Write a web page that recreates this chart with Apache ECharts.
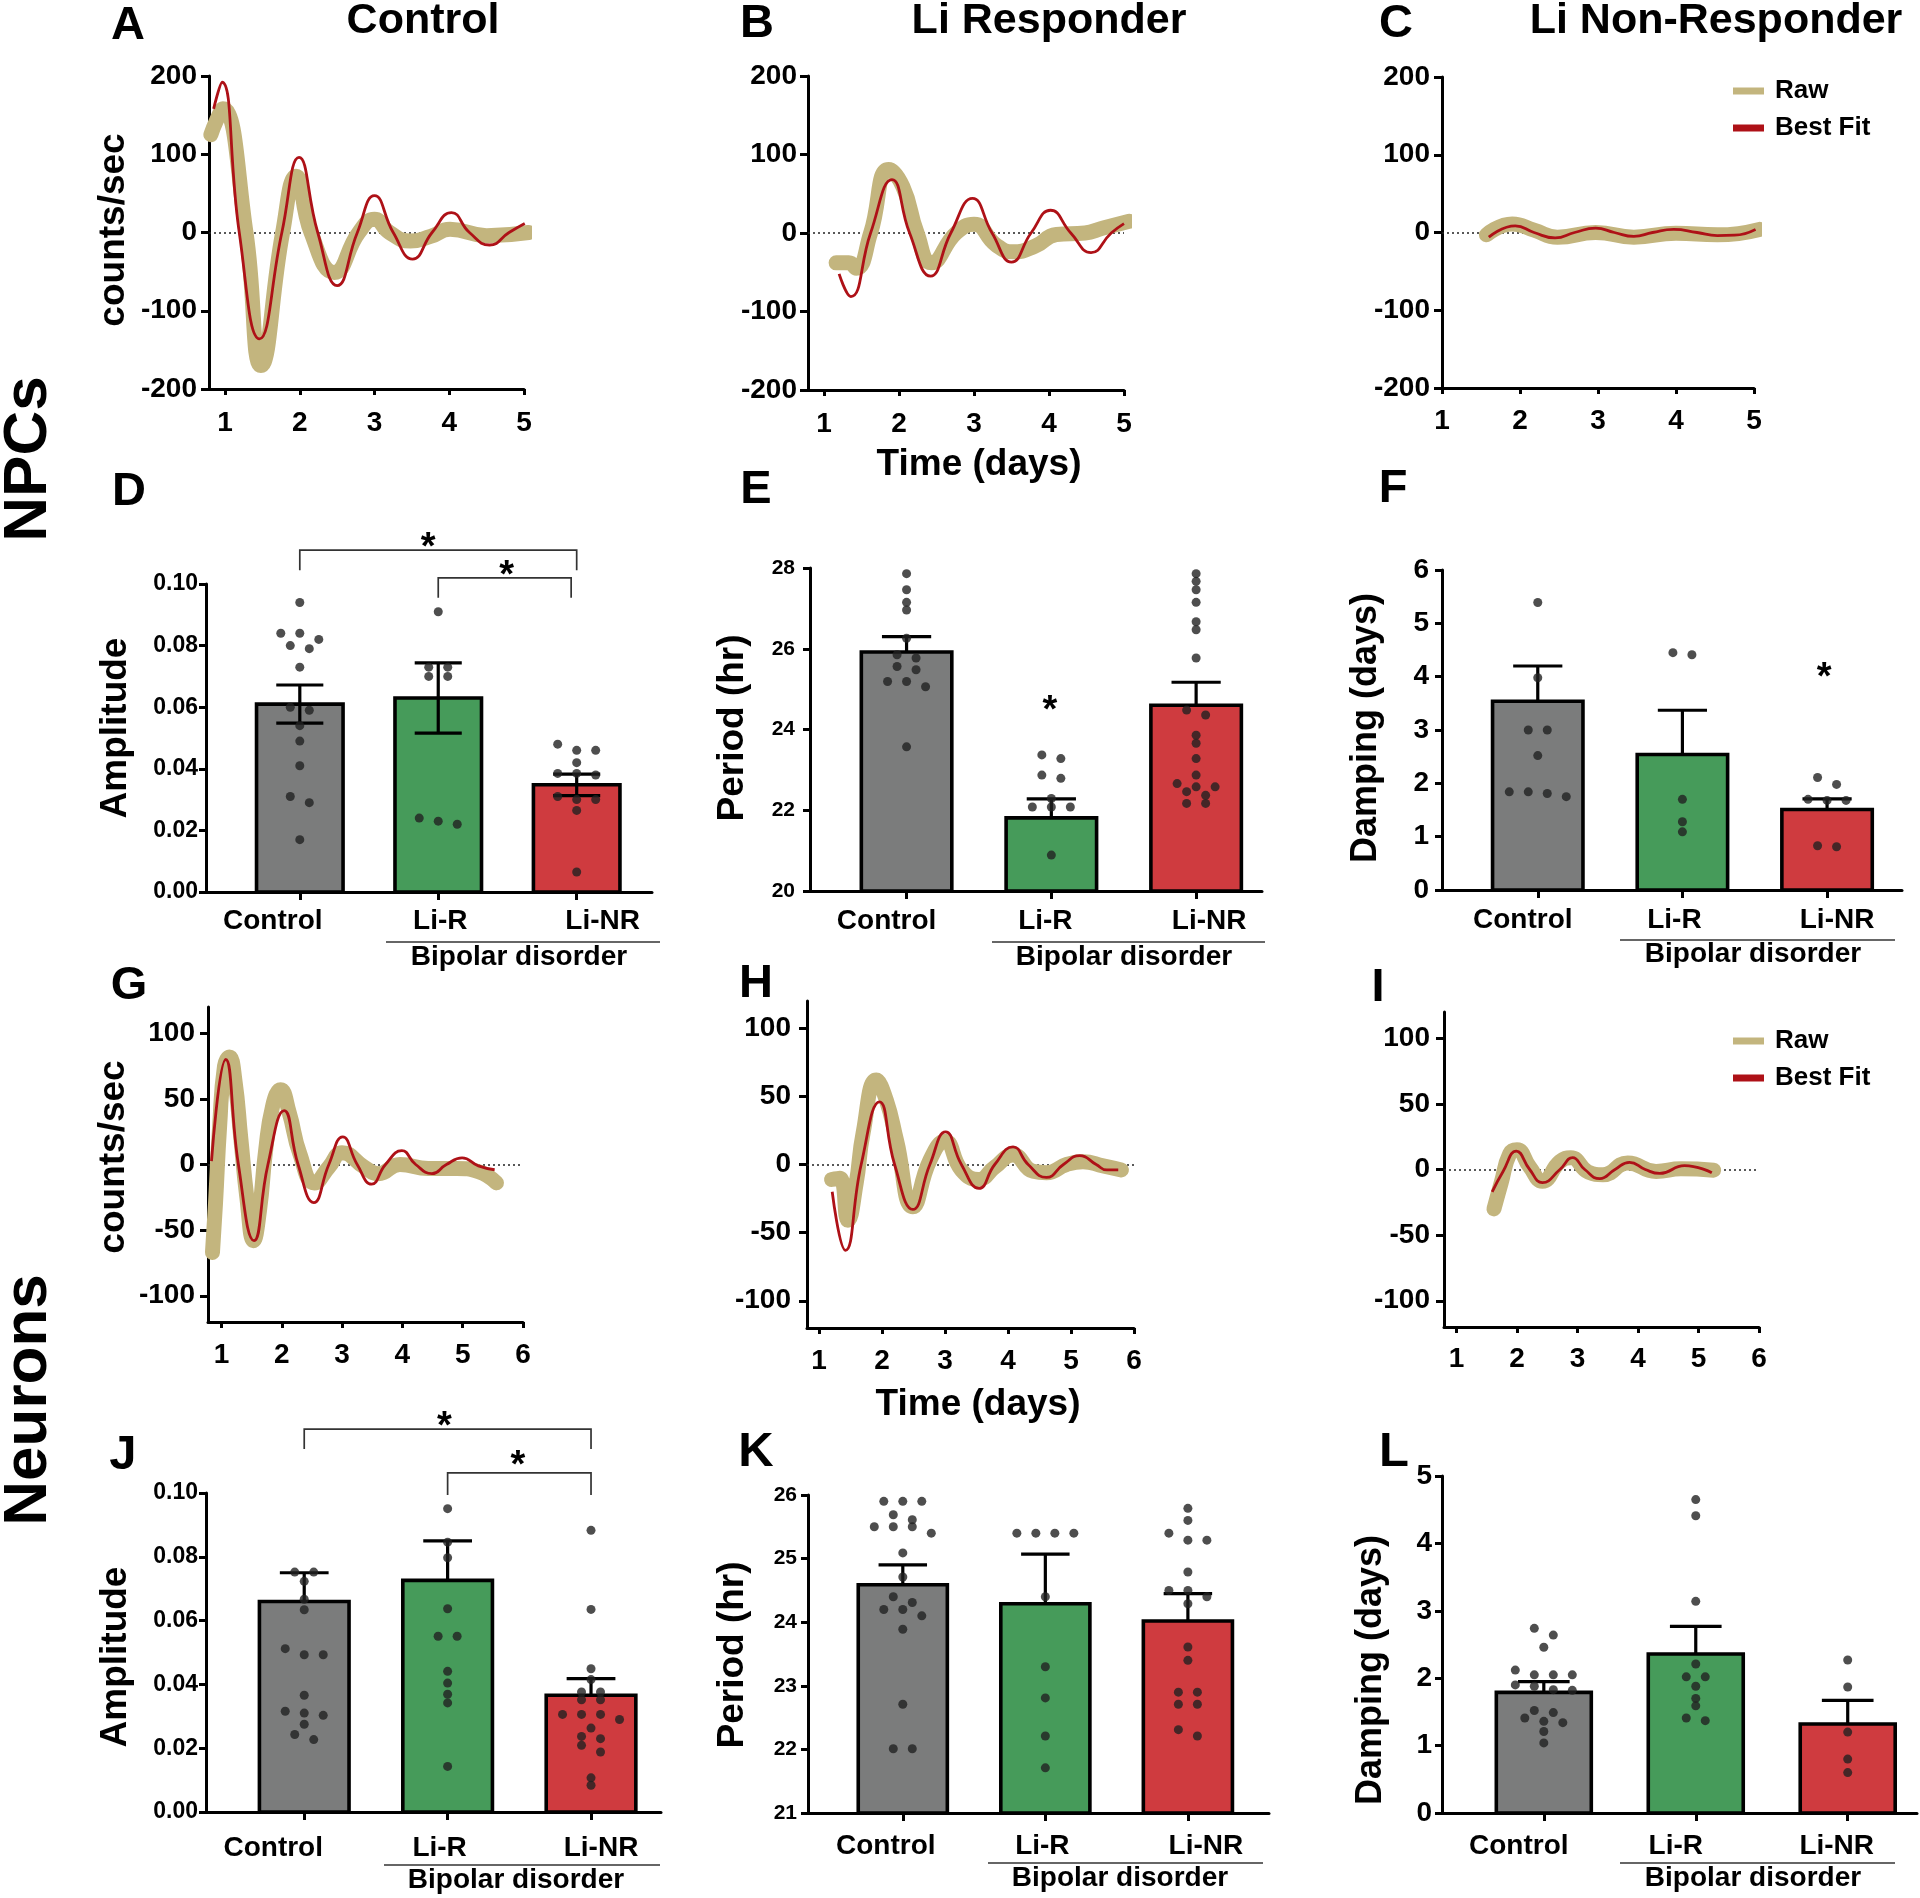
<!DOCTYPE html>
<html><head><meta charset="utf-8">
<script src="https://cdn.jsdelivr.net/npm/echarts@6/dist/echarts.min.js"></script>
<style>html,body{margin:0;padding:0;background:#fff}#c{width:1920px;height:1898px}</style>
</head><body><div id="c"></div>
<script>
// ================= DATA =================
const groupNames = ['Control', 'Li-R', 'Li-NR'];
const daysTicks5 = [1, 2, 3, 4, 5];
const daysTicks6 = [1, 2, 3, 4, 5, 6];
const npcTraceTicks = [-200, -100, 0, 100, 200];
const neuTraceTicks = [-100, -50, 0, 50, 100];

// NPC bioluminescence traces (day, counts/sec)
const npcCtrlRaw = [[0.81,125],[0.88,142],[0.97,158],[1.28,0],[1.48,-170],[1.77,0],[1.95,72],[2.15,0],[2.46,-51],[2.79,0],[3.0,17],[3.2,0],[3.48,-11],[3.75,-5],[4.01,4],[4.5,-4],[5.06,0]];
const npcCtrlFit = [[0.847,158],[0.96,192],[1.19,0],[1.46,-136],[1.76,0],[1.99,96],[2.24,0],[2.5,-68],[2.77,0],[3.0,47],[3.25,0],[3.51,-34],[3.77,0],[4.03,25.5],[4.27,0],[4.54,-16],[4.8,0],[5.01,11.5]];
const npcLiRRaw = [[1.16,-38],[1.33,-38],[1.43,-45],[1.62,0],[1.86,81],[2.05,59],[2.24,0],[2.43,-38],[2.76,0],[3.0,11],[3.29,-15],[3.52,-24],[3.81,-17],[4.1,-2],[4.48,0],[4.71,6],[5.07,15]];
const npcLiRFit = [[1.2,-52],[1.357,-81],[1.62,0],[1.905,68],[2.14,0],[2.42,-55],[2.69,0],[2.98,44],[3.24,0],[3.5,-37],[3.76,0],[4.02,29],[4.29,0],[4.56,-25],[4.83,0],[5.0,12]];
const npcLiNRRaw = [[1.57,-3],[1.9,11],[2.18,3],[2.48,-6],[2.97,0],[3.46,-6],[4.0,-1],[4.53,-3],[5.07,4]];
const npcLiNRFit = [[1.6,-6],[1.94,8.5],[2.18,0],[2.45,-7],[2.7,0],[2.97,5.5],[3.21,0],[3.46,-5],[3.7,0],[3.97,4],[4.27,0],[4.53,-4],[4.75,-3.5],[5.02,4]];

// Neuron traces
const neuCtrlRaw = [[0.85,-67],[0.9,-30],[0.97,30],[1.05,75],[1.13,82],[1.22,65],[1.32,20],[1.42,-25],[1.53,-58],[1.63,-35],[1.73,10],[1.85,45],[1.98,57],[2.12,40],[2.3,8],[2.54,-14],[2.78,-2],[3.0,9],[3.37,-2],[3.6,-7],[3.96,0],[4.43,-3],[4.9,-3],[5.26,-5.5],[5.56,-14]];
const neuCtrlFit = [[0.834,2.5],[1.07,80],[1.28,0],[1.54,-58],[1.77,0],[2.04,41],[2.27,0],[2.53,-29],[2.78,0],[3.01,21],[3.25,0],[3.49,-15],[3.72,0],[3.99,10.5],[4.22,0],[4.49,-7],[4.73,0],[4.99,5],[5.26,-1],[5.53,-4]];
const neuLiRRaw = [[1.2,-11],[1.33,-10],[1.46,-41],[1.59,-14],[1.7,23],[1.91,62],[2.07,47],[2.23,18],[2.49,-31],[2.76,3],[3.0,17],[3.26,-4],[3.53,-11],[3.79,-2],[4.08,7],[4.4,-5],[4.61,-6],[4.93,0],[5.19,2],[5.51,-1],[5.8,-4]];
const neuLiRFit = [[1.21,-20],[1.42,-63],[1.67,0],[1.96,46],[2.2,0],[2.49,-33],[2.76,0],[3.01,24],[3.26,0],[3.54,-17.5],[3.79,0],[4.08,13],[4.32,0],[4.61,-9.5],[4.88,0],[5.14,6.5],[5.4,0],[5.57,-4],[5.75,-4]];
const neuLiNRRaw = [[1.62,-30],[1.74,-10],[1.88,12],[2.0,15],[2.21,2],[2.42,-9],[2.71,6],[2.89,9],[3.18,-2],[3.42,-4],[3.83,5],[4.3,-1.5],[4.71,0.5],[5.25,-0.5]];
const neuLiNRFit = [[1.59,-17],[1.77,-1.5],[1.99,14],[2.21,0],[2.42,-10],[2.71,0],[2.92,9],[3.12,0],[3.37,-7],[3.62,0],[3.86,5.5],[4.12,0],[4.36,-3],[4.77,3],[5.22,-2.5]];

// NPC amplitude (D)
const npcAmpMean = [0.061, 0.063, 0.0348];
const npcAmpSem = [0.0062, 0.0114, 0.0035];
const npcAmpCtrl = [0.094,0.084,0.084,0.082,0.080,0.079,0.073,0.060,0.059,0.054,0.049,0.041,0.031,0.029,0.017];
const npcAmpLiR = [0.091,0.073,0.073,0.070,0.070,0.024,0.023,0.022];
const npcAmpLiNR = [0.048,0.046,0.046,0.042,0.0385,0.0385,0.038,0.031,0.030,0.030,0.0265,0.0065];
// NPC period (E)
const npcPerMean = [25.92, 21.81, 24.6];
const npcPerSem = [0.38, 0.47, 0.57];
const npcPerCtrl = [27.86,27.46,27.15,26.96,26.26,25.85,25.77,25.56,25.48,25.19,25.19,25.06,23.57];
const npcPerLiR = [23.37,23.28,22.87,22.79,22.29,22.08,22.08,22.08,20.89];
const npcPerLiNR = [27.86,27.67,27.46,27.15,26.67,26.47,25.77,24.48,24.36,23.86,23.66,23.28,22.87,22.66,22.58,22.58,22.46,22.37,22.17,22.17];
// NPC damping (F)
const npcDampMean = [3.54, 2.54, 1.51];
const npcDampSem = [0.66, 0.83, 0.2];
const npcDampCtrl = [5.39,3.98,3.0,3.0,2.52,1.84,1.84,1.81,1.75];
const npcDampLiR = [4.45,4.41,1.7,1.28,1.09];
const npcDampLiNR = [2.11,1.98,1.70,1.68,1.68,0.83,0.81];
// Neuron amplitude (J)
const neuAmpMean = [0.066, 0.0726, 0.0366];
const neuAmpSem = [0.009, 0.0124, 0.0052];
const neuAmpCtrl = [0.0752,0.0752,0.0723,0.0667,0.0634,0.0512,0.0493,0.0493,0.0366,0.0316,0.031,0.0303,0.0275,0.0243,0.0227];
const neuAmpLiR = [0.0951,0.0846,0.0797,0.0637,0.0551,0.0551,0.0441,0.0404,0.0369,0.0342,0.0143];
const neuAmpLiNR = [0.0883,0.0635,0.0449,0.0415,0.0376,0.0376,0.0352,0.0352,0.0306,0.0306,0.0306,0.029,0.0263,0.0237,0.023,0.0209,0.0188,0.0107,0.0084];
// Neuron period (K)
const neuPerMean = [24.59, 24.29, 24.02];
const neuPerSem = [0.31, 0.78, 0.43];
const neuPerCtrl = [25.9,25.9,25.9,25.69,25.61,25.5,25.5,25.5,25.4,25.09,24.71,24.4,24.31,24.2,24.2,24.1,23.89,22.71,22.01,22.01];
const neuPerLiR = [25.4,25.4,25.4,25.4,24.4,23.3,22.81,22.21,21.71];
const neuPerLiNR = [25.79,25.6,25.4,25.29,25.29,24.79,24.5,24.5,24.4,24.29,23.61,23.4,22.9,22.9,22.71,22.71,22.31,22.21];
// Neuron damping (L)
const neuDampMean = [1.79, 2.36, 1.32];
const neuDampSem = [0.16, 0.41, 0.35];
const neuDampCtrl = [2.74,2.64,2.46,2.12,2.05,2.05,2.05,1.90,1.88,1.83,1.82,1.52,1.49,1.41,1.36,1.34,1.21,1.04];
const neuDampLiR = [4.65,4.41,3.14,2.21,2.02,2.02,1.88,1.7,1.59,1.41,1.37];
const neuDampLiNR = [2.27,1.87,1.2,0.8,0.6];

// significance annotations: [x1, x2, y, drop1, drop2] and star [x, y]
const npcAmpBrackets = [[1, 3, 0.111, 0.1045, 0.1045], [2, 2.96, 0.102, 0.0955, 0.0955]];
const npcAmpStars = [[1.927, 0.1143], [2.494, 0.1052]];
const npcPerStars = [[1.99, 24.66]];
const npcDampStars = [[2.98, 4.125]];
const neuAmpBrackets = [[1, 3, 0.120, 0.1138, 0.1138], [2, 3, 0.1063, 0.0994, 0.0994]];
const neuAmpStars = [[1.977, 0.1235], [2.49, 0.111]];

// ================= STYLE / LAYOUT =================
const FONT = "'Liberation Sans', Arial, Helvetica, sans-serif";
const C_RAW = '#C3B57E', C_FIT = '#AE1117';
const BAR_COLORS = ['#7B7C7C', '#469B5A', '#CF3B3F'];
const BW = 0.625, CW = 0.34;

const timePanels = [
  {raw: npcCtrlRaw, fit: npcCtrlFit, grid: {left: 209, top: 76, width: 315, height: 313}, x: [0.785, 5], xt: daysTicks5, y: [-200, 200], yt: npcTraceTicks, xm: 20, ym: 12},
  {raw: npcLiRRaw, fit: npcLiRFit, grid: {left: 808, top: 76, width: 316, height: 314}, x: [0.785, 5], xt: daysTicks5, y: [-200, 200], yt: npcTraceTicks, xm: 20, ym: 11},
  {raw: npcLiNRRaw, fit: npcLiNRFit, grid: {left: 1442, top: 77, width: 312, height: 311}, x: [1, 5], xt: daysTicks5, y: [-200, 200], yt: npcTraceTicks, xm: 19, ym: 12},
  {raw: neuCtrlRaw, fit: neuCtrlFit, grid: {left: 208, top: 1007, width: 315, height: 315}, x: [0.776, 6], xt: daysTicks6, y: [-120, 120], yt: neuTraceTicks, xm: 19, ym: 13},
  {raw: neuLiRRaw, fit: neuLiRFit, grid: {left: 807, top: 1001, width: 327, height: 327}, x: [0.81, 6], xt: daysTicks6, y: [-120, 120], yt: neuTraceTicks, xm: 19, ym: 16},
  {raw: neuLiNRRaw, fit: neuLiNRFit, grid: {left: 1444, top: 1012, width: 315, height: 315}, x: [0.794, 6], xt: daysTicks6, y: [-120, 120], yt: neuTraceTicks, xm: 18, ym: 14}
];

const barPanels = [
  {mean: npcAmpMean, sem: npcAmpSem, groups: [npcAmpCtrl, npcAmpLiR, npcAmpLiNR], two: true, grid: {left: 206, top: 584, width: 446, height: 308}, x: [0.3225, 3.544], y: [0, 0.1], yi: 0.02, dec: 2, tf: 23, ym: 8, xm: 15, shift: [-27, 2, 26], brackets: npcAmpBrackets, stars: npcAmpStars},
  {mean: npcPerMean, sem: npcPerSem, groups: [npcPerCtrl, npcPerLiR, npcPerLiNR], two: false, grid: {left: 810, top: 568, width: 452, height: 323}, x: [0.333, 3.455], y: [20, 28], yi: 2, dec: 0, tf: 21, ym: 15, xm: 16, shift: [-20, -6, 13], stars: npcPerStars},
  {mean: npcDampMean, sem: npcDampSem, groups: [npcDampCtrl, npcDampLiR, npcDampLiNR], two: false, grid: {left: 1442, top: 570, width: 460, height: 320}, x: [0.338, 3.518], y: [0, 6], yi: 1, dec: 0, tf: 28, ym: 13, xm: 16, shift: [-15, -8, 10], stars: npcDampStars},
  {mean: neuAmpMean, sem: neuAmpSem, groups: [neuAmpCtrl, neuAmpLiR, neuAmpLiNR], two: false, grid: {left: 206, top: 1493, width: 455, height: 319}, x: [0.315, 3.488], y: [0, 0.1], yi: 0.02, dec: 2, tf: 23, ym: 8, xm: 22, shift: [-31, -8, 10], brackets: neuAmpBrackets, stars: neuAmpStars},
  {mean: neuPerMean, sem: neuPerSem, groups: [neuPerCtrl, neuPerLiR, neuPerLiNR], two: false, grid: {left: 808, top: 1495, width: 461, height: 318}, x: [0.335, 3.569], y: [21, 26], yi: 1, dec: 0, tf: 21, ym: 11, xm: 19, shift: [-17, -3, 18]},
  {mean: neuDampMean, sem: neuDampSem, groups: [neuDampCtrl, neuDampLiR, neuDampLiNR], two: false, grid: {left: 1442, top: 1476, width: 475, height: 337}, x: [0.33, 3.456], y: [0, 5], yi: 1, dec: 0, tf: 28, ym: 10, xm: 19, shift: [-25, -20, -11]}
];

// beeswarm-like row layout (GraphPad style)
function swarm(vals, xc, pxX, pxY, stepPx, rowPx) {
  const s = vals.slice().sort((a, b) => b - a);
  const out = [];
  let i = 0;
  while (i < s.length) {
    const row = [s[i]]; let j = i + 1;
    while (j < s.length && (s[i] - s[j]) * pxY < rowPx) { row.push(s[j]); j++; }
    const n = row.length;
    row.forEach((v, k) => out.push([xc + (k - (n - 1) / 2) * stepPx / pxX, v]));
    i = j;
  }
  return out;
}

const axisLineStyle = {color: '#000', width: 3};
const grid = [], xAxis = [], yAxis = [], series = [];

timePanels.forEach(p => {
  const gi = grid.length;
  grid.push(Object.assign({}, p.grid));
  xAxis.push({
    type: 'value', gridIndex: gi, min: p.x[0], max: p.x[1],
    axisLine: {show: true, onZero: false, lineStyle: axisLineStyle},
    axisTick: {show: true, length: 6, lineStyle: axisLineStyle, customValues: p.xt},
    axisLabel: {customValues: p.xt, margin: p.xm, color: '#000', fontFamily: FONT, fontWeight: 'bold', fontSize: 28, formatter: v => String(v)},
    splitLine: {show: false}
  });
  yAxis.push({
    type: 'value', gridIndex: gi, min: p.y[0], max: p.y[1],
    axisLine: {show: true, onZero: false, lineStyle: axisLineStyle},
    axisTick: {show: true, length: 8, lineStyle: axisLineStyle, customValues: p.yt},
    axisLabel: {customValues: p.yt, margin: p.ym, color: '#000', fontFamily: FONT, fontWeight: 'bold', fontSize: 28, formatter: v => String(v)},
    splitLine: {show: false}
  });
  series.push({
    type: 'line', name: 'Raw', xAxisIndex: gi, yAxisIndex: gi, data: p.raw, smooth: 0.5,
    showSymbol: false, symbol: 'none', color: C_RAW, z: 2,
    lineStyle: {width: 15, color: C_RAW, cap: 'round', join: 'round'},
    markLine: {silent: true, symbol: 'none', z: 1, label: {show: false},
      lineStyle: {type: [2, 3], color: '#222', width: 1.6}, data: [{yAxis: 0}]}
  });
  series.push({
    type: 'line', name: 'Best Fit', xAxisIndex: gi, yAxisIndex: gi, data: p.fit, smooth: 0.5,
    showSymbol: false, symbol: 'none', color: C_FIT, z: 3,
    lineStyle: {width: 2.8, color: C_FIT}
  });
});

barPanels.forEach(p => {
  const gi = grid.length;
  grid.push(Object.assign({}, p.grid));
  const rich = {};
  p.shift.forEach((d, k) => {
    rich['g' + k] = {fontFamily: FONT, fontWeight: 'bold', fontSize: 28, color: '#000',
      padding: [0, d < 0 ? -2 * d : 0, 0, d > 0 ? 2 * d : 0]};
  });
  xAxis.push({
    type: 'value', gridIndex: gi, min: p.x[0], max: p.x[1],
    axisLine: {show: true, onZero: false, lineStyle: axisLineStyle},
    axisTick: {show: true, length: 8, lineStyle: axisLineStyle, customValues: [1, 2, 3]},
    axisLabel: {customValues: [1, 2, 3], margin: p.xm, rich,
      formatter: v => { const k = Math.round(v) - 1; return '{g' + k + '|' + groupNames[k] + '}'; }},
    splitLine: {show: false}
  });
  yAxis.push({
    type: 'value', gridIndex: gi, min: p.y[0], max: p.y[1], interval: p.yi,
    axisLine: {show: true, onZero: false, lineStyle: axisLineStyle},
    axisTick: {show: true, length: 7, lineStyle: axisLineStyle},
    axisLabel: {margin: p.ym, color: '#000', fontFamily: FONT, fontWeight: 'bold', fontSize: p.tf, formatter: v => v.toFixed(p.dec)},
    splitLine: {show: false}
  });
  const base = p.y[0];
  series.push({
    type: 'custom', xAxisIndex: gi, yAxisIndex: gi, z: 1, clip: false,
    data: p.mean.map((m, k) => [k + 1, m]),
    renderItem: (params, api) => {
      const x = api.value(0), m = api.value(1);
      const a = api.coord([x - BW / 2, m]), b = api.coord([x + BW / 2, base]);
      return {type: 'rect', shape: {x: a[0], y: a[1], width: b[0] - a[0], height: b[1] - a[1]},
        style: {fill: BAR_COLORS[params.dataIndex], stroke: '#000', lineWidth: 3.6}};
    }
  });
  series.push({
    type: 'custom', xAxisIndex: gi, yAxisIndex: gi, z: 3, clip: false,
    data: p.mean.map((m, k) => [k + 1, m, p.sem[k]]),
    renderItem: (params, api) => {
      const x = api.value(0), m = api.value(1), s = api.value(2);
      const top = api.coord([x, m + s]), bot = api.coord([x, p.two ? m - s : m]);
      const cl = api.coord([x - CW / 2, m + s]), cr = api.coord([x + CW / 2, m + s]);
      const st = {stroke: '#000', lineWidth: 3.2};
      const ch = [
        {type: 'line', shape: {x1: top[0], y1: top[1], x2: bot[0], y2: bot[1]}, style: st},
        {type: 'line', shape: {x1: cl[0], y1: cl[1], x2: cr[0], y2: cr[1]}, style: st}
      ];
      if (p.two) {
        const bl = api.coord([x - CW / 2, m - s]), br = api.coord([x + CW / 2, m - s]);
        ch.push({type: 'line', shape: {x1: bl[0], y1: bl[1], x2: br[0], y2: br[1]}, style: st});
      }
      return {type: 'group', children: ch};
    }
  });
  const pxX = p.grid.width / (p.x[1] - p.x[0]);
  const pxY = p.grid.height / (p.y[1] - p.y[0]);
  p.groups.forEach((vals, k) => {
    series.push({
      type: 'scatter', xAxisIndex: gi, yAxisIndex: gi, z: 4, symbol: 'circle', symbolSize: 9,
      itemStyle: {color: '#222'}, data: swarm(vals, k + 1, pxX, pxY, 19, 7)
    });
  });
  if (p.brackets) {
    series.push({
      type: 'custom', xAxisIndex: gi, yAxisIndex: gi, z: 5, clip: false,
      data: p.brackets, encode: {x: [0, 1], y: [2, 3, 4]},
      renderItem: (params, api) => {
        const x1 = api.value(0), x2 = api.value(1), y = api.value(2), d1 = api.value(3), d2 = api.value(4);
        return {type: 'polyline', shape: {points: [api.coord([x1, d1]), api.coord([x1, y]), api.coord([x2, y]), api.coord([x2, d2])]},
          style: {stroke: '#333', lineWidth: 1.7, fill: null}};
      }
    });
  }
  if (p.stars) {
    series.push({
      type: 'custom', xAxisIndex: gi, yAxisIndex: gi, z: 5, clip: false,
      data: p.stars,
      renderItem: (params, api) => {
        const c = api.coord([api.value(0), api.value(1)]);
        return {type: 'text', x: c[0], y: c[1] + 9,
          style: {text: '*', font: 'bold 38px ' + FONT, fill: '#000', align: 'center', verticalAlign: 'middle', textAlign: 'center', textVerticalAlign: 'middle'}};
      }
    });
  }
});

// ================= TEXT / DECORATIONS =================
function txt(text, x, y, size, rot) {
  return {type: 'text', x, y, rotation: rot ? Math.PI / 2 : 0, z: 10,
    style: {text, font: 'bold ' + size + 'px ' + FONT, fill: '#000', align: 'center', verticalAlign: 'middle', textAlign: 'center', textVerticalAlign: 'middle'}};
}
function hline(x1, x2, y) {
  return {type: 'line', z: 10, shape: {x1, y1: y, x2, y2: y}, style: {stroke: '#333', lineWidth: 1.6}};
}
const graphics = [
  txt('Control', 423, 21, 43), txt('Li Responder', 1049, 21, 43), txt('Li Non-Responder', 1716, 21, 43),
  txt('A', 128, 26, 47), txt('B', 757, 24, 47), txt('C', 1396, 24, 47),
  txt('D', 129, 492, 47), txt('E', 756, 490, 47), txt('F', 1393, 489, 47),
  txt('G', 129, 986, 47), txt('H', 756, 984, 47), txt('I', 1378, 988, 47),
  txt('J', 123, 1455, 49), txt('K', 756, 1452, 49), txt('L', 1394, 1452, 49),
  txt('NPCs', 29, 459, 62, true), txt('Neurons', 29, 1400, 62, true),
  txt('counts/sec', 114, 230, 37, true), txt('counts/sec', 114, 1157, 37, true),
  txt('Time (days)', 979, 465, 37), txt('Time (days)', 978, 1405, 37),
  txt('Amplitude', 116, 728, 37, true), txt('Period (hr)', 733, 728, 37, true), txt('Damping (days)', 1366, 728, 36, true),
  txt('Amplitude', 116, 1657, 37, true), txt('Period (hr)', 733, 1655, 37, true), txt('Damping (days)', 1371, 1670, 36, true),
  hline(386, 660, 942), txt('Bipolar disorder', 519, 957, 28),
  hline(992, 1265, 942), txt('Bipolar disorder', 1124, 957, 28),
  hline(1620, 1895, 940), txt('Bipolar disorder', 1753, 954, 28),
  hline(384, 660, 1865), txt('Bipolar disorder', 516, 1880, 28),
  hline(988, 1263, 1863), txt('Bipolar disorder', 1120, 1878, 28),
  hline(1620, 1895, 1863), txt('Bipolar disorder', 1753, 1878, 28)
];

const legendBase = {data: ['Raw', 'Best Fit'], orient: 'vertical', icon: 'rect', itemWidth: 31, itemHeight: 7, itemGap: 11,
  selectedMode: false, textStyle: {fontFamily: FONT, fontWeight: 'bold', fontSize: 26, color: '#000', padding: [0, 0, 0, 6]}};

const chart = echarts.init(document.getElementById('c'), null, {renderer: 'canvas'});
chart.setOption({
  backgroundColor: '#fff',
  animation: false,
  grid, xAxis, yAxis, series,
  legend: [Object.assign({left: 1728, top: 73}, legendBase), Object.assign({left: 1728, top: 1023}, legendBase)],
  graphic: {elements: graphics}
});
</script></body></html>
